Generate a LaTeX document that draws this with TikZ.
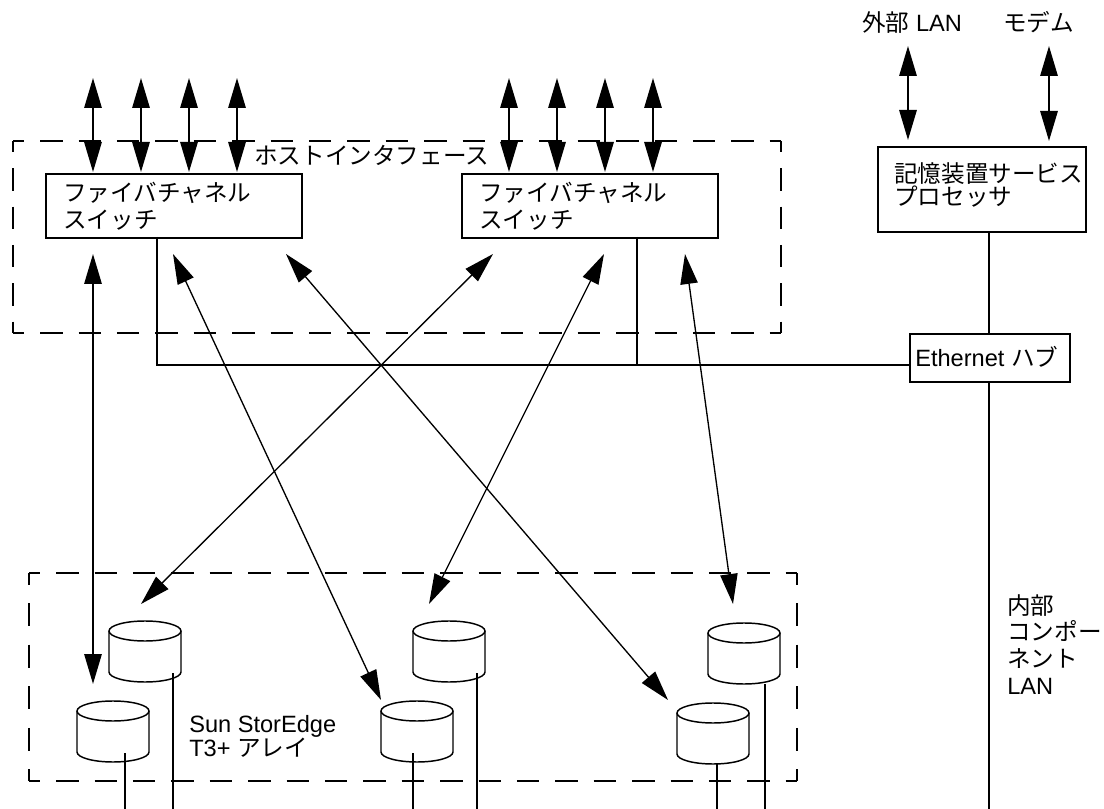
\documentclass[tikz,border=0pt]{standalone}
\usepackage{fontspec}
\setmainfont{Liberation Sans}
\newfontfamily\cjk{Noto Sans CJK JP}
\usetikzlibrary{arrows.meta,calc}
\tikzset{
  x=0.75pt,y=-0.75pt,
  ln/.style={line width=1.5pt,draw=black},
  thinln/.style={line width=1pt,draw=black},
  dbl/.style={ln,{Triangle[length=22.5pt,width=13pt]}-{Triangle[length=22.5pt,width=13pt]}},
  dblthin/.style={thinln,{Triangle[length=22.5pt,width=13pt]}-{Triangle[length=22.5pt,width=13pt]}},
  dboxh/.style={line width=1.5pt,draw=black,dash pattern=on 16.9pt off 11.9pt,dash phase=8.45pt},
  dboxv/.style={line width=1.5pt,draw=black,dash pattern=on 16.9pt off 11.9pt,dash phase=8.45pt},
  dboxw/.style={line width=1.5pt,draw=black,dash pattern=on 17.3pt off 13.9pt,dash phase=8.65pt},
  box/.style={ln,fill=white,inner sep=0pt,anchor=north west},
  lab/.style={inner sep=0pt,anchor=north west,align=left,font=\fontsize{17.7pt}{20pt}\selectfont},
}
\newcommand{\disk}[3]{% x left, y top, unused name
  \coordinate (#1) at (#2,#3);
  \draw[line width=1.1pt,draw=black,fill=white] (#2,#3+10) arc[x radius=36,y radius=10,start angle=180,end angle=360]
     -- ++(0,41) arc[x radius=36,y radius=10,start angle=0,end angle=180] -- cycle;
  \draw[line width=1.1pt,draw=black] (#2,#3+10) arc[x radius=36,y radius=10,start angle=180,end angle=0];
}
\begin{document}
\begin{tikzpicture}
\useasboundingbox (0,0) rectangle (1104,809);
% dashed frames
\coordinate (h1) at (13,141); \coordinate (h2) at (781,141);
\coordinate (h3) at (781,333); \coordinate (h4) at (13,333);
\draw[dboxh] (h1) -- (h2); \draw[dboxh] (h4) -- (h3);
\draw[dboxv] (h1) -- (h4); \draw[dboxv] (h2) -- (h3);
\coordinate (a1) at (29,573); \coordinate (a2) at (797,573);
\coordinate (a3) at (797,781); \coordinate (a4) at (29,781);
\draw[dboxh] (a1) -- (a2); \draw[dboxh] (a4) -- (a3);
\draw[dboxw] (a1) -- (a4); \draw[dboxw] (a2) -- (a3);
% switches
\node[box,minimum width=192pt,minimum height=48pt] (sw1) at (45,173) {};
\node[box,minimum width=192pt,minimum height=48pt] (sw2) at (461,173) {};
\node[lab] (sw1t) at (63,182) {\cjk ファイバチャネル\\\cjk スイッチ};
\node[lab] (sw2t) at (479,182) {\cjk ファイバチャネル\\\cjk スイッチ};
\node[lab] (hostt) at (254,145) {\cjk ホストインタフェース};
% service + hub
\node[box,minimum width=156pt,minimum height=64pt] (svc) at (877,146) {};
\node[lab,font=\fontsize{17.7pt}{17.5pt}\selectfont] (svct) at (894,162) {\cjk 記憶装置サービス\\\cjk プロセッサ};
\node[box,minimum width=120pt,minimum height=36pt] (hub) at (909,333) {};
\node[lab] (hubt) at (915,346) {Ethernet {\cjk ハブ}};
\node[lab] (extlan) at (862,11) {{\cjk 外部} LAN};
\node[lab] (modem) at (1003,11) {\cjk モデム};
\node[lab] (intlan) at (1007,594) {{\cjk 内部}\\{\cjk コンポー}\\{\cjk ネント}\\LAN};
\node[lab,font=\fontsize{17.7pt}{18pt}\selectfont] (arrt) at (189,715) {Sun StorEdge\\T3+ {\cjk アレイ}};
% disks
\disk{d1u}{109}{621}
\disk{d1l}{77}{701}
\disk{d2u}{413}{621}
\disk{d2l}{381}{701}
\disk{d3u}{708}{623}
\disk{d3l}{677}{703}
% ends
\foreach \n/\x/\y in {a/125/753,b/173/673,c/413/753,d/477/673,e/717/764,f/765/684}{
  \coordinate (\n1) at (\x,\y);
  \coordinate (\n2) at (\x,809);
  \draw[ln] (\n1) -- (\n2);
}
% top double arrows
\foreach \x in {93,141,189,237,509,557,605,653}{
  \coordinate (t\x) at (\x,78);
  \coordinate (b\x) at (\x,172);
  \draw[dbl] (t\x) -- (b\x);
}
\coordinate (e1) at (908,46); \coordinate (e2) at (908,140);
\draw[dbl] (e1) -- (e2);
\coordinate (m1) at (1049,46); \coordinate (m2) at (1049,141);
\draw[dbl] (m1) -- (m2);
% cross arrows
\coordinate (x1a) at (93,254); \coordinate (x1b) at (93,684);
\draw[dbl] (x1a) -- (x1b);
\coordinate (x2a) at (173,254); \coordinate (x2b) at (381,700);
\draw[dblthin] (x2a) -- (x2b);
\coordinate (x3a) at (286,254); \coordinate (x3b) at (668,700);
\draw[dblthin] (x3a) -- (x3b);
\coordinate (x4a) at (493,254); \coordinate (x4b) at (141,604);
\draw[dblthin] (x4a) -- (x4b);
\coordinate (x5a) at (604,254); \coordinate (x5b) at (429,604);
\draw[dblthin] (x5a) -- (x5b);
\coordinate (x6a) at (685,254); \coordinate (x6b) at (733,604);
\draw[dblthin] (x6a) -- (x6b);
% network lines
\coordinate (s1d) at (157,237);
\coordinate (s2d) at (637,237);
\coordinate (bus) at (157,365);
\coordinate (bus2) at (637,365);
\coordinate (hubx) at (989,0);
\draw[ln] (s1d) -- (bus) -- (hub.west |- bus);
\draw[ln] (s2d) -- (bus2);
\draw[ln] (svc.south -| hubx) -- (hub.north -| hubx);
\coordinate (inb) at (989,809);
\draw[ln] (hub.south -| inb) -- (inb);
\end{tikzpicture}
\end{document}
